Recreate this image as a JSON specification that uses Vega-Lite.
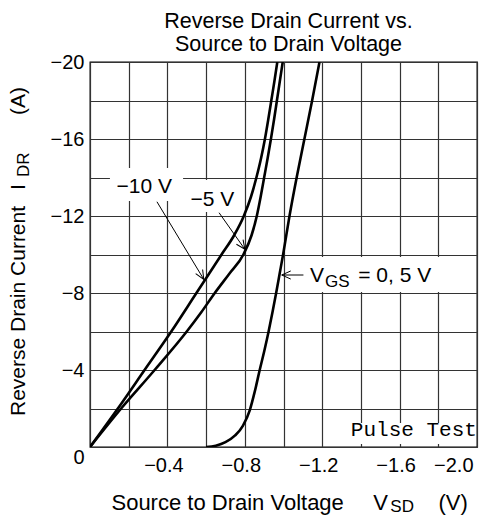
{
  "$schema": "https://vega.github.io/schema/vega-lite/v6.json",
  "width": 387,
  "height": 385,
  "autosize": {"type": "none"},
  "padding": {"left": 90, "top": 62, "right": 21, "bottom": 69},
  "background": "white",
  "config": {
    "font": "Liberation Sans",
    "view": {"stroke": "black", "strokeWidth": 1.3},
    "axis": {
      "domain": false,
      "ticks": false,
      "labelFont": "Liberation Sans",
      "labelFontSize": 20,
      "labelColor": "black",
      "gridColor": "#333333",
      "gridWidth": 1.2,
      "gridOpacity": 1,
      "title": null
    }
  },
  "title": {
    "text": ["Reverse Drain Current vs.", "Source to Drain Voltage"],
    "font": "Liberation Sans",
    "fontSize": 21.5,
    "fontWeight": "normal",
    "color": "black",
    "anchor": "middle",
    "frame": "group",
    "baseline": "bottom",
    "lineHeight": 23,
    "offset": 8,
    "dx": 5,
    "dy": 33
  },
  "resolve": {"axis": {"x": "independent", "y": "independent"}},
  "datasets": {
    "curves": [
      {"series": "-10 V", "v": 0, "i": 0},
      {"series": "-10 V", "v": -0.144, "i": -2},
      {"series": "-10 V", "v": -0.282, "i": -4},
      {"series": "-10 V", "v": -0.42, "i": -6},
      {"series": "-10 V", "v": -0.55, "i": -8},
      {"series": "-10 V", "v": -0.68, "i": -10},
      {"series": "-10 V", "v": -0.745, "i": -11},
      {"series": "-10 V", "v": -0.795, "i": -12},
      {"series": "-10 V", "v": -0.832, "i": -13},
      {"series": "-10 V", "v": -0.86, "i": -14},
      {"series": "-10 V", "v": -0.884, "i": -15},
      {"series": "-10 V", "v": -0.904, "i": -16},
      {"series": "-10 V", "v": -0.921, "i": -17},
      {"series": "-10 V", "v": -0.937, "i": -18},
      {"series": "-10 V", "v": -0.953, "i": -19},
      {"series": "-10 V", "v": -0.968, "i": -20},
      {"series": "-5 V", "v": 0, "i": 0},
      {"series": "-5 V", "v": -0.161, "i": -2},
      {"series": "-5 V", "v": -0.334, "i": -4},
      {"series": "-5 V", "v": -0.5, "i": -6},
      {"series": "-5 V", "v": -0.575, "i": -7},
      {"series": "-5 V", "v": -0.645, "i": -8},
      {"series": "-5 V", "v": -0.72, "i": -9},
      {"series": "-5 V", "v": -0.793, "i": -10},
      {"series": "-5 V", "v": -0.835, "i": -11},
      {"series": "-5 V", "v": -0.862, "i": -12},
      {"series": "-5 V", "v": -0.882, "i": -13},
      {"series": "-5 V", "v": -0.9, "i": -14},
      {"series": "-5 V", "v": -0.918, "i": -15},
      {"series": "-5 V", "v": -0.935, "i": -16},
      {"series": "-5 V", "v": -0.951, "i": -17},
      {"series": "-5 V", "v": -0.966, "i": -18},
      {"series": "-5 V", "v": -0.981, "i": -19},
      {"series": "-5 V", "v": -0.996, "i": -20},
      {"series": "0, 5 V", "v": -0.6, "i": 0},
      {"series": "0, 5 V", "v": -0.65, "i": -0.07},
      {"series": "0, 5 V", "v": -0.7, "i": -0.25},
      {"series": "0, 5 V", "v": -0.75, "i": -0.6},
      {"series": "0, 5 V", "v": -0.79, "i": -1.1},
      {"series": "0, 5 V", "v": -0.826, "i": -1.92},
      {"series": "0, 5 V", "v": -0.852, "i": -2.9},
      {"series": "0, 5 V", "v": -0.877, "i": -4},
      {"series": "0, 5 V", "v": -0.901, "i": -5},
      {"series": "0, 5 V", "v": -0.923, "i": -6},
      {"series": "0, 5 V", "v": -0.943, "i": -7},
      {"series": "0, 5 V", "v": -0.962, "i": -8},
      {"series": "0, 5 V", "v": -0.98, "i": -9},
      {"series": "0, 5 V", "v": -0.998, "i": -10},
      {"series": "0, 5 V", "v": -1.031, "i": -12},
      {"series": "0, 5 V", "v": -1.068, "i": -14},
      {"series": "0, 5 V", "v": -1.108, "i": -16},
      {"series": "0, 5 V", "v": -1.148, "i": -18},
      {"series": "0, 5 V", "v": -1.186, "i": -20}
    ]
  },
  "layer": [
    {
      "data": {"name": "curves"},
      "mark": {"type": "line", "color": "black", "strokeWidth": 2.6, "interpolate": "monotone", "clip": true},
      "encoding": {
        "x": {"field": "v", "type": "quantitative",
          "scale": {"domain": [0, -2], "nice": false, "zero": false},
          "axis": {"orient": "bottom", "values": [0, -0.2, -0.4, -0.6, -0.8, -1.0, -1.2, -1.4, -1.6, -1.8, -2.0],
                   "grid": true, "labels": false}},
        "y": {"field": "i", "type": "quantitative",
          "scale": {"domain": [0, -20], "nice": false, "zero": false},
          "axis": {"orient": "left", "values": [0, -2, -4, -6, -8, -10, -12, -14, -16, -18, -20],
                   "grid": true, "labels": false}},
        "detail": {"field": "series"}
      }
    },
    {
      "data": {"values": [{}]},
      "mark": {"type": "rect", "color": "white"},
      "encoding": {
        "x": {"datum": -1.333, "type": "quantitative",
          "axis": {"orient": "bottom", "values": [-0.4, -0.8, -1.2, -1.6, -2.0], "format": ".1f",
                   "grid": false, "labels": true, "labelPadding": 8, "labelOffset": -4}},
        "x2": {"datum": -1.993},
        "y": {"datum": -1.247, "type": "quantitative",
          "axis": {"orient": "left", "values": [0, -4, -8, -12, -16, -20], "format": "d",
                   "grid": false, "labels": true, "labelPadding": 6,
                   "labelBaseline": {"condition": {"test": "datum.value == 0", "value": "top"}, "value": "middle"}}},
        "y2": {"datum": -0.156}
      }
    },
    {
      "data": {"values": [{}]},
      "mark": {"type": "rect", "color": "white"},
      "encoding": {
        "x": {"datum": -0.103, "type": "quantitative", "axis": null}, "x2": {"datum": -0.481},
        "y": {"datum": -14.49, "type": "quantitative", "axis": null}, "y2": {"datum": -12.78}
      }
    },
    {
      "data": {"values": [{}]},
      "mark": {"type": "rect", "color": "white"},
      "encoding": {
        "x": {"datum": -0.5, "type": "quantitative", "axis": null}, "x2": {"datum": -0.78},
        "y": {"datum": -13.87, "type": "quantitative", "axis": null}, "y2": {"datum": -12.21}
      }
    },
    {
      "data": {"values": [{}]},
      "mark": {"type": "rect", "color": "white"},
      "encoding": {
        "x": {"datum": -1.101, "type": "quantitative", "axis": null}, "x2": {"datum": -1.809},
        "y": {"datum": -9.87, "type": "quantitative", "axis": null}, "y2": {"datum": -8.05}
      }
    },
    {
      "data": {"values": [{}]},
      "mark": {"type": "rule", "color": "black", "strokeWidth": 1},
      "encoding": {
        "x": {"datum": -0.346, "type": "quantitative", "axis": null}, "x2": {"datum": -0.588},
        "y": {"datum": -12.74, "type": "quantitative", "axis": null}, "y2": {"datum": -8.71}
      }
    },
    {
      "data": {"values": [{}]},
      "mark": {"type": "rule", "color": "black", "strokeWidth": 1},
      "encoding": {
        "x": {"datum": -0.667, "type": "quantitative", "axis": null}, "x2": {"datum": -0.8005},
        "y": {"datum": -12.17, "type": "quantitative", "axis": null}, "y2": {"datum": -10.27}
      }
    },
    {
      "data": {"values": [{}]},
      "mark": {"type": "rule", "color": "black", "strokeWidth": 1},
      "encoding": {
        "x": {"datum": -1.103, "type": "quantitative", "axis": null}, "x2": {"datum": -0.991},
        "y": {"datum": -8.935, "type": "quantitative", "axis": null}, "y2": {"datum": -8.935}
      }
    },
    {
      "data": {"values": [{}]},
      "mark": {"type": "point", "shape": "M -1 -0.45 L 0 0 L -1 0.45", "filled": false, "stroke": "black", "strokeWidth": 1, "size": 324, "angle": 59, "opacity": 1},
      "encoding": {"x": {"datum": -0.588, "type": "quantitative", "axis": null}, "y": {"datum": -8.71, "type": "quantitative", "axis": null}}
    },
    {
      "data": {"values": [{}]},
      "mark": {"type": "point", "shape": "M -1 -0.45 L 0 0 L -1 0.45", "filled": false, "stroke": "black", "strokeWidth": 1, "size": 324, "angle": 55, "opacity": 1},
      "encoding": {"x": {"datum": -0.8005, "type": "quantitative", "axis": null}, "y": {"datum": -10.27, "type": "quantitative", "axis": null}}
    },
    {
      "data": {"values": [{}]},
      "mark": {"type": "point", "shape": "M -1 -0.45 L 0 0 L -1 0.45", "filled": false, "stroke": "black", "strokeWidth": 1, "size": 324, "angle": 180, "opacity": 1},
      "encoding": {"x": {"datum": -0.991, "type": "quantitative", "axis": null}, "y": {"datum": -8.935, "type": "quantitative", "axis": null}}
    },
    {
      "data": {"values": [{}]},
      "mark": {"type": "text", "text": "−10 V", "fontSize": 21, "align": "left", "baseline": "alphabetic", "color": "black"},
      "encoding": {"x": {"datum": -0.137, "type": "quantitative", "axis": null}, "y": {"datum": -13.19, "type": "quantitative", "axis": null}}
    },
    {
      "data": {"values": [{}]},
      "mark": {"type": "text", "text": "−5 V", "fontSize": 21, "align": "left", "baseline": "alphabetic", "color": "black"},
      "encoding": {"x": {"datum": -0.519, "type": "quantitative", "axis": null}, "y": {"datum": -12.52, "type": "quantitative", "axis": null}}
    },
    {
      "data": {"values": [{}]},
      "mark": {"type": "text", "text": "V", "fontSize": 21, "align": "left", "baseline": "alphabetic", "color": "black"},
      "encoding": {"x": {"datum": -1.137, "type": "quantitative", "axis": null}, "y": {"datum": -8.59, "type": "quantitative", "axis": null}}
    },
    {
      "data": {"values": [{}]},
      "mark": {"type": "text", "text": "GS", "fontSize": 17, "align": "left", "baseline": "alphabetic", "color": "black"},
      "encoding": {"x": {"datum": -1.215, "type": "quantitative", "axis": null}, "y": {"datum": -8.33, "type": "quantitative", "axis": null}}
    },
    {
      "data": {"values": [{}]},
      "mark": {"type": "text", "text": "= 0, 5 V", "fontSize": 21, "align": "left", "baseline": "alphabetic", "color": "black"},
      "encoding": {"x": {"datum": -1.386, "type": "quantitative", "axis": null}, "y": {"datum": -8.59, "type": "quantitative", "axis": null}}
    },
    {
      "data": {"values": [{}]},
      "mark": {"type": "text", "text": "Pulse Test", "font": "Liberation Mono", "fontSize": 21, "align": "left", "baseline": "alphabetic", "color": "black"},
      "encoding": {"x": {"datum": -1.348, "type": "quantitative", "axis": null}, "y": {"datum": -0.571, "type": "quantitative", "axis": null}}
    },
    {
      "data": {"values": [{}]},
      "mark": {"type": "text", "text": "Source to Drain Voltage", "fontSize": 22, "align": "left", "baseline": "alphabetic", "color": "black"},
      "encoding": {"x": {"datum": -0.111, "type": "quantitative", "axis": null}, "y": {"datum": 3.27, "type": "quantitative", "axis": null}}
    },
    {
      "data": {"values": [{}]},
      "mark": {"type": "text", "text": "V", "fontSize": 22, "align": "left", "baseline": "alphabetic", "color": "black"},
      "encoding": {"x": {"datum": -1.464, "type": "quantitative", "axis": null}, "y": {"datum": 3.27, "type": "quantitative", "axis": null}}
    },
    {
      "data": {"values": [{}]},
      "mark": {"type": "text", "text": "SD", "fontSize": 17, "align": "left", "baseline": "alphabetic", "color": "black"},
      "encoding": {"x": {"datum": -1.552, "type": "quantitative", "axis": null}, "y": {"datum": 3.4, "type": "quantitative", "axis": null}}
    },
    {
      "data": {"values": [{}]},
      "mark": {"type": "text", "text": "(V)", "fontSize": 22, "align": "left", "baseline": "alphabetic", "color": "black"},
      "encoding": {"x": {"datum": -1.801, "type": "quantitative", "axis": null}, "y": {"datum": 3.27, "type": "quantitative", "axis": null}}
    },
    {
      "data": {"values": [{}]},
      "mark": {"type": "text", "text": "Reverse Drain Current", "fontSize": 21, "angle": 270, "align": "left", "baseline": "alphabetic", "color": "black"},
      "encoding": {"x": {"datum": 0.336, "type": "quantitative", "axis": null}, "y": {"datum": -1.61, "type": "quantitative", "axis": null}}
    },
    {
      "data": {"values": [{}]},
      "mark": {"type": "text", "text": "I", "fontSize": 21, "angle": 270, "align": "left", "baseline": "alphabetic", "color": "black"},
      "encoding": {"x": {"datum": 0.336, "type": "quantitative", "axis": null}, "y": {"datum": -13.35, "type": "quantitative", "axis": null}}
    },
    {
      "data": {"values": [{}]},
      "mark": {"type": "text", "text": "DR", "fontSize": 17, "angle": 270, "align": "left", "baseline": "alphabetic", "color": "black"},
      "encoding": {"x": {"datum": 0.315, "type": "quantitative", "axis": null}, "y": {"datum": -14.03, "type": "quantitative", "axis": null}}
    },
    {
      "data": {"values": [{}]},
      "mark": {"type": "text", "text": "(A)", "fontSize": 21, "angle": 270, "align": "left", "baseline": "alphabetic", "color": "black"},
      "encoding": {"x": {"datum": 0.336, "type": "quantitative", "axis": null}, "y": {"datum": -17.25, "type": "quantitative", "axis": null}}
    }
  ]
}
